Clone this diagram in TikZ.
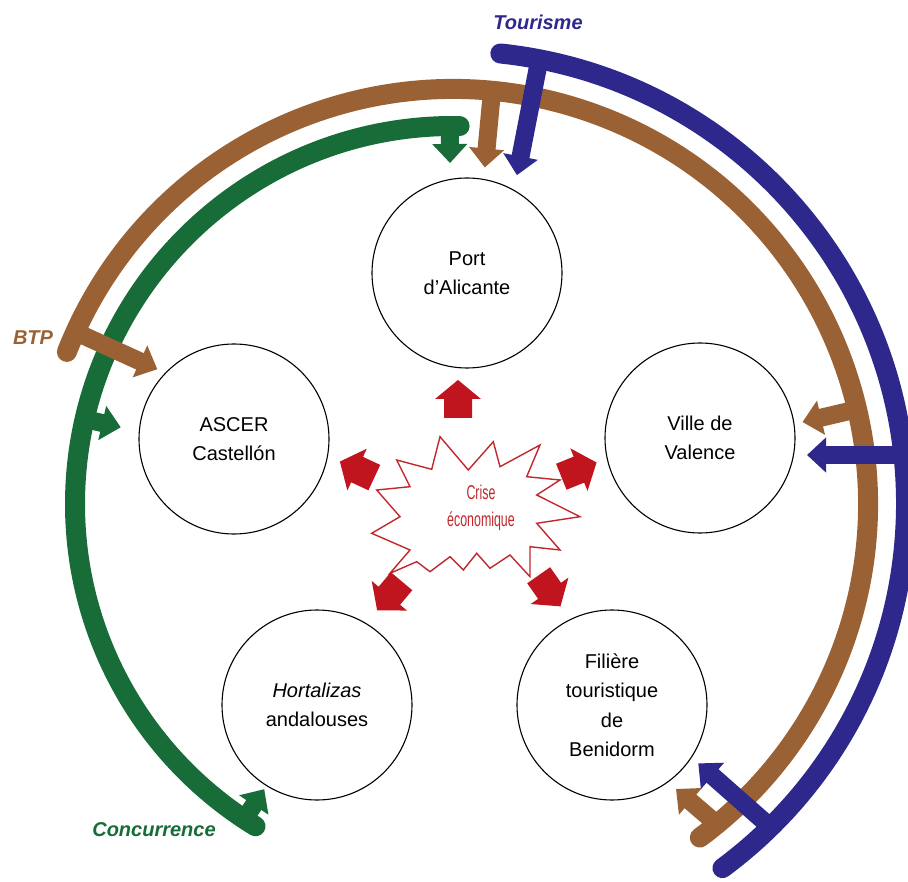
\documentclass[tikz,border=0pt]{standalone}
\usepackage{fontspec}
\setmainfont{Liberation Sans}
\newfontfamily\narrowfont[FakeStretch=0.62]{Liberation Sans}
\usetikzlibrary{arrows.meta,calc}
\definecolor{cbrown}{RGB}{154,98,52}
\definecolor{cblue}{RGB}{46,40,140}
\definecolor{cgreen}{RGB}{24,108,56}
\definecolor{cred}{RGB}{192,20,30}
\definecolor{cstar}{RGB}{192,40,44}
\newcommand{\redblock}[3]{\fill[cred,shift={(#1,#2)},rotate=#3] (-18,-14) -- (1,-14) -- (1,-23) -- (20,0) -- (1,23) -- (1,14) -- (-18,14) -- cycle;}
\begin{document}
\begin{tikzpicture}[x=1pt,y=-1pt,
  band/.style={line width=20pt, line cap=round},
  stem/.style={line width=18pt, -{Triangle[width=34pt,length=19pt]}},
  place/.style={circle, draw, line width=1.1pt, minimum size=190pt, inner sep=0pt, align=center, font=\fontsize{20}{29.5}\selectfont},
  lab/.style={font=\fontsize{20}{24}\selectfont\bfseries\itshape}]
\clip (0,0) rectangle (908,882);
\fill[white] (0,0) rectangle (908,882);
\coordinate (C) at (453,504);

% circles
\node[place] (port) at (467,273) {Port\\d’Alicante};
\node[place] (valence) at (700,438) {Ville de\\Valence};
\node[place] (ascer) at (234,439) {ASCER\\Castellón};
\node[place] (hort) at (317,705) {\textit{Hortalizas}\\andalouses};
\node[place] (beni) at (612,705) {Filière\\touristique\\de\\Benidorm};

% star
\draw[cstar, line width=1.4pt, fill=white, line join=miter]
 (396.7,460) -- (431.7,469.3) -- (440,436.7) -- (468.3,470) -- (493.3,441.7) -- (500,466.7)
 -- (540,445) -- (526.7,476.7) -- (560,480) -- (536.7,495) -- (580,516.7) -- (536.7,523.3)
 -- (560,550) -- (530,546.7) -- (530,576.7) -- (510,555) -- (490,568.3) -- (476.7,553.3)
 -- (463.3,570) -- (450,556.7) -- (430,571.7) -- (416.7,561.7) -- (390,573.3) -- (410,550)
 -- (371.7,533.3) -- (400,516.7) -- (376.7,490) -- (410,486.7) -- cycle;
\node[text=cstar, align=center, font=\narrowfont\fontsize{20}{27}\selectfont] (crise) at (481,508) {Crise\\économique};

% red arrows
\redblock{458}{400}{90}
\redblock{358}{470}{155}
\redblock{578}{470}{22}
\redblock{390}{595}{230}
\redblock{549}{590}{305}

% green
\draw[band, cgreen] ($(C)+(-89:378)$) arc[start angle=-89, end angle=-238.5, radius=378];
\coordinate (g1r) at ($(C)+(-90.5:378)$); \coordinate (g1t) at ($(C)+(-90.5:341)$);
\coordinate (g2r) at ($(C)+(-167:378)$);  \coordinate (g2t) at ($(C)+(-167:341)$);
\coordinate (g3r) at ($(C)+(-236.5:378)$); \coordinate (g3t) at ($(C)+(-236.5:342)$);
\draw[stem, cgreen] (g1r) -- (g1t);
\draw[stem, cgreen] (g2r) -- (g2t);
\draw[stem, cgreen] (g3r) -- (g3t);

% brown
\draw[band, cbrown] ($(C)+(-158.5:415)$) arc[start angle=-158.5, end angle=53.5, radius=415];
\coordinate (b1r) at ($(C)+(-84.6:415)$); \coordinate (b1t) at ($(C)+(-84.6:338)$);
\coordinate (b2r) at ($(C)+(-155.5:415)$); \coordinate (b2t) at ($(C)+(-155.5:325)$);
\coordinate (b3r) at ($(C)+(-13.2:415)$); \coordinate (b3t) at ($(C)+(-13.2:359)$);
\coordinate (b4r) at ($(C)+(50.5:415)$); \coordinate (b4t) at (676,789);
\draw[stem, cbrown] (b1r) -- (b1t);
\draw[stem, cbrown] (b2r) -- (b2t);
\draw[stem, cbrown] (b3r) -- (b3t);
\draw[stem, cbrown] (b4r) -- (b4t);

% blue
\draw[band, cblue] ($(C)+(-84:453)$) arc[start angle=-84, end angle=53.5, radius=453];
\coordinate (u1r) at ($(C)+(-79:453)$); \coordinate (u1t) at ($(C)+(-79:335)$);
\coordinate (u2r) at (903,455); \coordinate (u2t) at (807,455);
\coordinate (u3r) at ($(C)+(45.5:453)$); \coordinate (u3t) at ($(C)+(46.6:357)$);
\draw[stem, cblue] (u1r) -- (u1t);
\draw[stem, cblue] (u2r) -- (u2t);
\draw[stem, cblue] (u3r) -- (u3t);

% labels
\node[lab, text=cblue] (tour) at (538,22) {Tourisme};
\node[lab, text=cbrown] (btp) at (33,338) {BTP};
\node[lab, text=cgreen] (conc) at (154,830) {Concurrence};
\end{tikzpicture}
\end{document}
